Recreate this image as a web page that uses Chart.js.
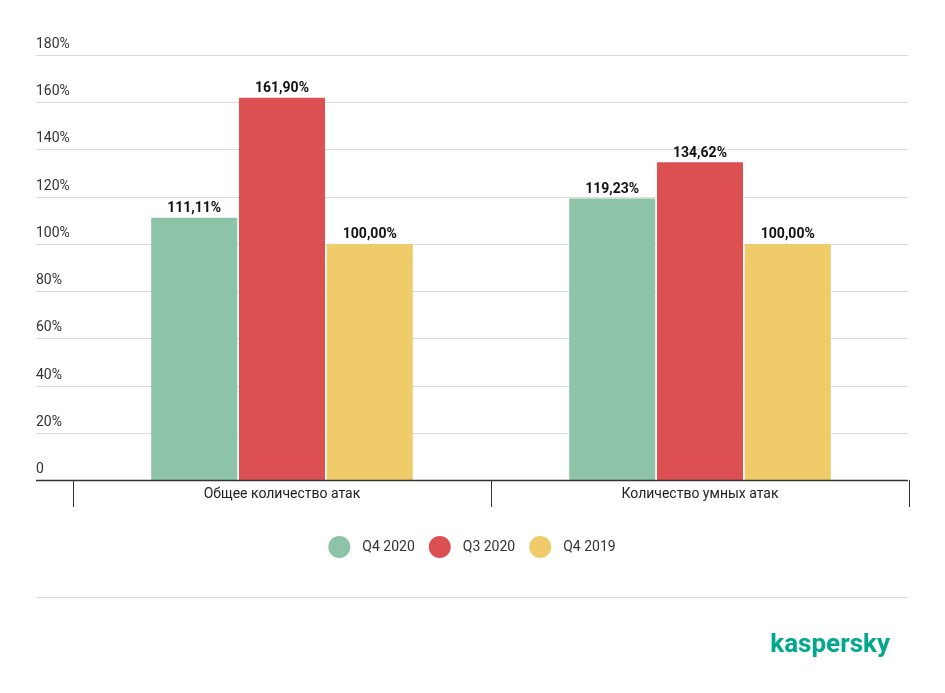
<!DOCTYPE html>
<html><head><meta charset="utf-8">
<script src="https://cdn.jsdelivr.net/npm/chart.js@4"></script>
<style>body{margin:0;background:#fff}#w{position:relative;width:945px;height:693px}</style>
</head><body><div id="w"><canvas id="c" width="945" height="693"></canvas></div>
<script>
const categories=["Общее количество атак","Количество умных атак"];
const seriesNames=["Q4 2020","Q3 2020","Q4 2019"];
const q4_2020=[111.11,119.23];
const q3_2020=[161.90,134.62];
const q4_2019=[100.00,100.00];
const colors=["#8dc3a7","#dc5052","#efcb6a"];
const yTicks=[0,20,40,60,80,100,120,140,160,180];
const fmt=v=>v.toFixed(2).replace('.',',')+'%';
const F="Roboto, 'Noto Sans', sans-serif";
const extra={id:'extra',
 beforeDatasetsDraw(ch){const c=ch.ctx,y=ch.scales.y;c.save();
  c.font="14px "+F;c.fillStyle="#333";c.textBaseline="bottom";
  yTicks.forEach(t=>{const py=Math.round(y.getPixelForValue(t))+0.5;
   if(t>0){c.strokeStyle="#dcdcdc";c.lineWidth=1;c.beginPath();c.moveTo(36,py);c.lineTo(908,py);c.stroke();}
   c.fillText(t===0?"0":t+"%",36,py-4);});
  c.strokeStyle="#dcdcdc";c.beginPath();c.moveTo(36,597.5);c.lineTo(908,597.5);c.stroke();
  c.restore();},
 afterDatasetsDraw(ch){const c=ch.ctx;c.save();c.font="bold 14px "+F;c.fillStyle="#111";c.textAlign="center";c.textBaseline="bottom";
  ch.data.datasets.forEach((d,i)=>ch.getDatasetMeta(i).data.forEach((b,j)=>c.fillText(fmt(d.data[j]),b.x,b.y-2)));
  const y0=Math.round(ch.scales.y.getPixelForValue(0))+0.5;c.strokeStyle="#333";c.lineWidth=1.5;c.beginPath();c.moveTo(36,y0);c.lineTo(908,y0);c.stroke();
  c.font="14px "+F;c.fillStyle="#222";c.textBaseline="middle";
  categories.forEach((l,i)=>c.fillText(l,ch.scales.x.getPixelForValue(i),y0+14));
  // legend
  const items=seriesNames.map(s=>{c.font="14px "+F;return c.measureText(s).width;});
  const gap=12,r=11,sp=14;let tot=0;items.forEach(w=>tot+=2*r+gap+w+sp);tot-=sp;
  let x=472-tot/2;const ly=547;
  seriesNames.forEach((s,i)=>{c.fillStyle=colors[i];c.beginPath();c.arc(x+r,ly,r,0,Math.PI*2);c.fill();
   c.fillStyle="#333";c.textAlign="left";c.fillText(s,x+2*r+gap,ly);x+=2*r+gap+items[i]+sp;});
  c.font="bold 26px "+F;c.fillStyle="#00a88e";c.textAlign="right";c.textBaseline="alphabetic";c.fillText("kaspersky",890,652);
  c.restore();}};
new Chart(document.getElementById('c'),{type:'bar',
 data:{labels:categories,datasets:[q4_2020,q3_2020,q4_2019].map((d,i)=>({label:seriesNames[i],data:d,backgroundColor:colors[i],barPercentage:0.98,categoryPercentage:0.63}))},
 options:{responsive:false,animation:false,
  layout:{padding:{left:73,right:36,top:55,bottom:186}},
  plugins:{tooltip:{enabled:false},legend:{display:false}},
  scales:{x:{afterFit(s){s.height=27;},grid:{offset:true,drawOnChartArea:false,color:'#333',tickLength:27,lineWidth:1},border:{display:false},ticks:{color:'rgba(0,0,0,0)',font:{family:F,size:14}}},
   y:{min:0,max:180,afterFit(s){s.width=0;},ticks:{display:false,stepSize:20},grid:{display:false},border:{display:false}}}},
 plugins:[extra]});
</script></body></html>
